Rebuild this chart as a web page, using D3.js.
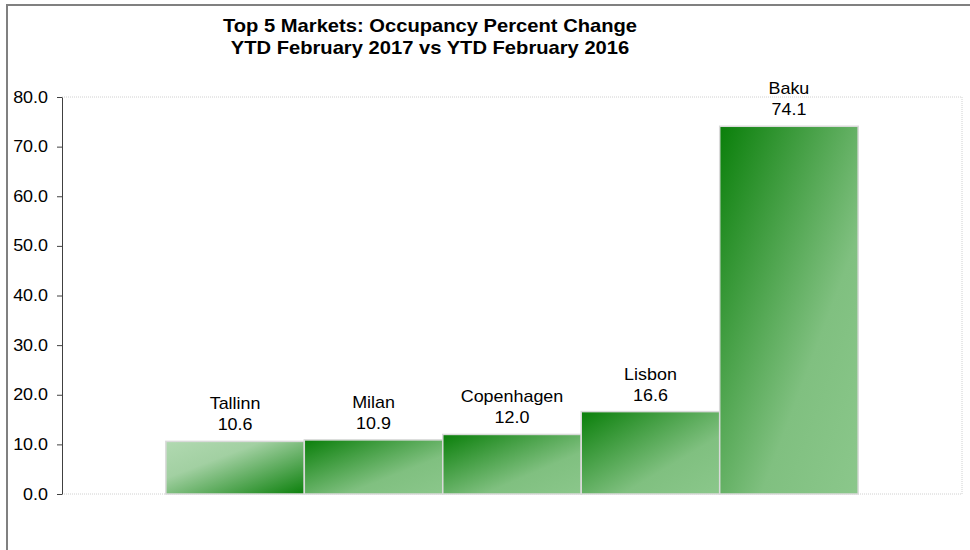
<!DOCTYPE html>
<html>
<head>
<meta charset="utf-8">
<script src="https://cdn.jsdelivr.net/npm/d3@7"></script>
<style>
  body { margin: 0; background: #fff; }
  svg text { font-family: Arial, "Liberation Sans", sans-serif; fill: #000; }
</style>
</head>
<body>
<div id="chart"></div>
<script>
const width = 970;
const height = 550;
const stretch = 1.12 // text in the original is a bit wider than plain Arial

const titleLines = ['Top 5 Markets: Occupancy Percent Change', 'YTD February 2017 vs YTD February 2016']
const markets = ['Tallinn', 'Milan', 'Copenhagen', 'Lisbon', 'Baku']
const occupancyChange = [10.6, 10.9, 12.0, 16.6, 74.1]
const yTicks = [0, 10, 20, 30, 40, 50, 60, 70, 80]

const data = markets.map((m, i) => ({market: m, value: occupancyChange[i]}))

const margin = {left: 62, right: 8, top: 97, bottom: 56}

const svg = d3.select('#chart')
  .append('svg')
  .attr('width', width)
  .attr('height', height)

// gradients: first bar goes light -> dark, the rest dark -> light
const defs = svg.append('defs')
const gLight = defs.append('linearGradient').attr('id', 'gradLight')
  .attr('x1', 0).attr('y1', 0).attr('x2', 1).attr('y2', 1)
gLight.append('stop').attr('offset', '0%').attr('stop-color', '#b1d9b1')
gLight.append('stop').attr('offset', '35%').attr('stop-color', '#a2d0a2')
gLight.append('stop').attr('offset', '100%').attr('stop-color', '#0b800b')

const gDark = defs.append('linearGradient').attr('id', 'gradDark')
  .attr('x1', 0).attr('y1', 0).attr('x2', 1).attr('y2', 1)
gDark.append('stop').attr('offset', '0%').attr('stop-color', '#0a7f0a')
gDark.append('stop').attr('offset', '65%').attr('stop-color', '#80c080')
gDark.append('stop').attr('offset', '100%').attr('stop-color', '#8bc78b')

// outer frame
svg.append('path')
  .attr('d', `M7,${height} L7,5 L${width},5`)
  .attr('fill', 'none')
  .attr('stroke', '#808080')
  .attr('stroke-width', 2)

const x = d3.scaleBand()
  .domain(markets)
  .range([margin.left, width - margin.right])
  .paddingInner(0)
  .paddingOuter(0.75)

const y = d3.scaleLinear()
  .domain([0, 80])
  .range([height - margin.bottom, margin.top])

// plot area border (dotted)
svg.append('path')
  .attr('d', `M${margin.left},${y(80)} L${width - margin.right},${y(80)} L${width - margin.right},${y(0)} L${margin.left},${y(0)}`)
  .attr('fill', 'none')
  .attr('stroke', '#d0d0d0')
  .attr('stroke-dasharray', '1,1')

// title
svg.append('g')
  .selectAll('text')
  .data(titleLines)
  .enter()
  .append('text')
  .attr('transform', (d, i) => `translate(430,${32 + i * 22}) scale(${stretch},1)`)
  .attr('text-anchor', 'middle')
  .attr('font-size', 18)
  .attr('font-weight', 'bold')
  .text(d => d)

// bars
svg.append('g')
  .selectAll('rect')
  .data(data)
  .enter()
  .append('rect')
  .attr('x', d => x(d.market))
  .attr('y', d => y(d.value))
  .attr('width', x.bandwidth())
  .attr('height', d => y(0) - y(d.value))
  .attr('fill', (d, i) => i === 0 ? 'url(#gradLight)' : 'url(#gradDark)')
  .attr('stroke', '#dadada')
  .attr('stroke-width', 1.5)

// labels above bars
const labels = svg.append('g')
  .selectAll('g')
  .data(data)
  .enter()
  .append('g')
  .attr('transform', d => `translate(${x(d.market) + x.bandwidth() / 2},${y(d.value)}) scale(${stretch},1)`)

labels.append('text')
  .attr('y', -32)
  .attr('text-anchor', 'middle')
  .attr('font-size', 16)
  .text(d => d.market)

labels.append('text')
  .attr('y', -11)
  .attr('text-anchor', 'middle')
  .attr('font-size', 16)
  .text(d => d.value.toFixed(1))

// y axis
const yAxis = svg.append('g')
  .attr('transform', `translate(${margin.left},0)`)
  .call(d3.axisLeft(y).tickValues(yTicks).tickFormat(d3.format('.1f')).tickSize(5).tickSizeOuter(0))

yAxis.select('.domain').attr('stroke', '#404040')
yAxis.selectAll('.tick line').attr('stroke', '#404040')
yAxis.selectAll('.tick text')
  .attr('font-size', 16)
  .attr('font-family', 'Arial, "Liberation Sans", sans-serif')
  .attr('fill', '#000')
  .attr('x', 0)
  .attr('transform', `translate(-14,0) scale(${stretch},1)`)
</script>
</body>
</html>
